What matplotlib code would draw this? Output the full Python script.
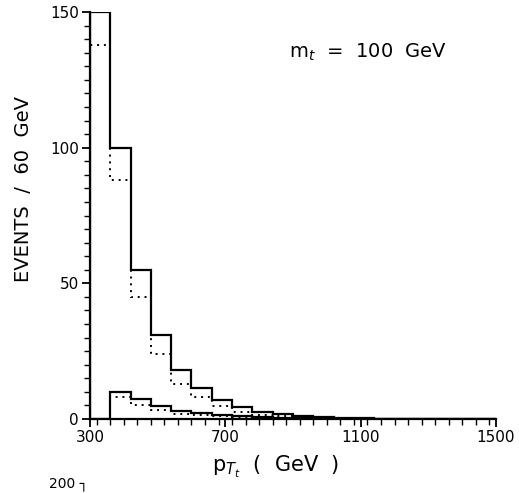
import numpy as np
import matplotlib
matplotlib.use("Agg")
import matplotlib.pyplot as plt
from matplotlib.ticker import MultipleLocator

plt.rcParams['font.family'] = ['DejaVu Sans']

# 60 GeV bins from 300 to 1500
edges = np.arange(300, 1501, 60)
big_solid = [150, 100, 55, 31, 18, 11.4, 7, 4.4, 2.6, 1.8, 1.2, 0.8, 0.5, 0.3, 0.2, 0.1, 0, 0, 0, 0]
big_dotted = [138, 88, 45, 24, 13, 8, 4.8, 2.6, 1.5, 1.0, 0.7, 0.4, 0.3, 0.2, 0.1, 0, 0, 0, 0, 0]
small_solid = [0, 10, 7.4, 4.8, 3, 2.2, 1.5, 1.0, 0.7, 0.5, 0.3, 0.2, 0.1, 0, 0, 0, 0, 0, 0, 0]
small_dotted = [0, 8, 5, 3.3, 2, 1.5, 1.0, 0.6, 0.4, 0.3, 0.2, 0.1, 0, 0, 0, 0, 0, 0, 0, 0]

fig = plt.figure(figsize=(5.19, 4.93), dpi=100)
ax = fig.add_axes([0.1734, 0.150, 0.7823, 0.8257])

ax.stairs(big_solid, edges, color="black", lw=1.6)
ax.stairs(big_dotted, edges, color="black", lw=1.4, ls=(0, (1, 2.5)))
ax.stairs(small_solid, edges, color="black", lw=1.6)
ax.stairs(small_dotted, edges, color="black", lw=1.4, ls=(0, (1, 2.5)))

ax.set_xlim(300, 1500)
ax.set_ylim(0, 150)
ax.spines['top'].set_visible(False)
ax.spines['right'].set_visible(False)
ax.spines['left'].set_linewidth(1.6)
ax.spines['bottom'].set_linewidth(1.6)

ax.set_xticks([300, 700, 1100, 1500])
ax.xaxis.set_minor_locator(MultipleLocator(40))
ax.set_yticks([0, 50, 100, 150])
ax.yaxis.set_minor_locator(MultipleLocator(5))
ax.tick_params(which='major', length=6, width=1.3, labelsize=11, direction='out', pad=2)
ax.tick_params(which='minor', length=4, width=1.0, direction='out')

ax.set_ylabel("EVENTS  /  60  GeV", fontsize=14, labelpad=12, y=0.565)
ax.set_xlabel(r"p$_{T_t}$  (  GeV  )", fontsize=15, labelpad=6, x=0.458)

ax.text(0.49, 0.902, r"m$_t$  =  100  GeV", transform=ax.transAxes,
        fontsize=14, ha="left", va="center")

fig.text(0.095, 0.004, "200 \u2510", fontsize=10, ha="left", va="bottom")

fig.savefig("out.png", dpi=100)
